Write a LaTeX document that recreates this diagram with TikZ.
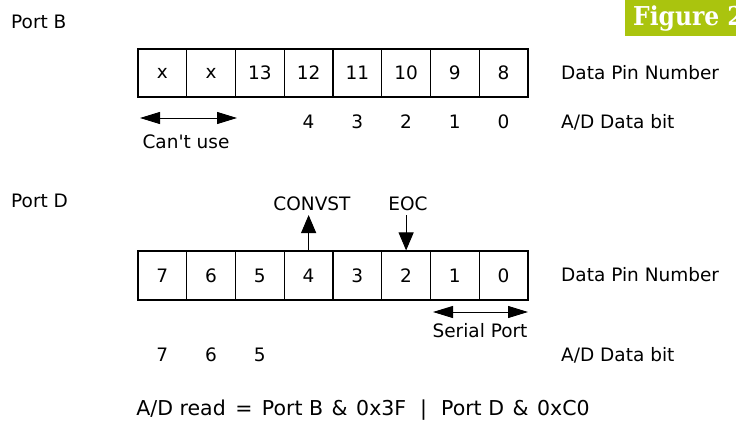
\documentclass[tikz,border=0pt]{standalone}
\usepackage{fontspec}
\setmainfont{DejaVu Sans}[Ligatures=TeXOff]
\newfontfamily\figfont{DejaVu Serif Condensed}
\usetikzlibrary{arrows.meta}
\definecolor{figgreen}{RGB}{170,196,14}
\tikzset{
  cell/.style={draw, line width=1.1pt, minimum width=48.75pt, minimum height=48pt, inner sep=0pt, font=\fontsize{18.5}{20}\selectfont},
  lbl/.style={inner sep=0pt, font=\fontsize{18.5}{20}\selectfont},
  dblarrow/.style={line width=1pt, {Triangle[length=20pt,width=12pt]}-{Triangle[length=20pt,width=12pt]}},
  sigarrow/.style={line width=1pt, -{Triangle[length=18pt,width=15pt]}}
}
\begin{document}
\begin{tikzpicture}[x=1pt,y=-1pt]
\useasboundingbox (0,0) rectangle (736,428);
\fill[white] (0,0) rectangle (736,428);
% Figure tag
\fill[figgreen] (625,0) rectangle (736,36);
\node[anchor=west, inner sep=0pt, text=white, font=\figfont\bfseries\fontsize{26}{30}\selectfont] (fig) at (633,19) {Figure 2};
% Port B
\node[lbl, anchor=west] (pb) at (11,22) {Port B};
\foreach \t [count=\i from 0] in {x,x,13,12,11,10,9,8} {
  \node[cell] (b\i) at ({138+48.75*(\i+0.5)},73) {\t};
}
\node[lbl, anchor=west] (bpin) at (561,73) {Data Pin Number};
\node[lbl, anchor=west] (bbit) at (561,122) {A/D Data bit};
\foreach \t [count=\i from 3] in {4,3,2,1,0} {
  \node[lbl] (bb\i) at (b\i |- 0,122) {\t};
}
\coordinate (cuL) at (140,118);
\coordinate (cuR) at (237,118);
\draw[dblarrow] (cuL) -- (cuR);
\node[lbl] (cantuse) at (186,142) {Can't use};
% Port D
\node[lbl, anchor=west] (pd) at (11,201) {Port D};
\foreach \t [count=\i from 0] in {7,6,5,4,3,2,1,0} {
  \node[cell, minimum height=49pt] (d\i) at ({138+48.75*(\i+0.5)},275.5) {\t};
}
\node[lbl, anchor=west] (dpin) at (561,275) {Data Pin Number};
\node[lbl, anchor=west] (dbit) at (561,355) {A/D Data bit};
\foreach \t [count=\i from 0] in {7,6,5} {
  \node[lbl] (db\i) at (d\i |- 0,355) {\t};
}
\node[lbl] (convst) at (312,204) {CONVST};
\node[lbl] (eoc) at (408,204) {EOC};
\coordinate (cvtop) at (d3 |- 0,215);
\coordinate (eocbot) at (d5 |- 0,215);
\draw[sigarrow] (d3.north) -- (cvtop);
\draw[sigarrow] (eocbot) -- (d5.north);
\coordinate (spL) at (433,312);
\coordinate (spR) at (528,312);
\draw[dblarrow] (spL) -- (spR);
\node[lbl] (serial) at (480,331) {Serial Port};
% Formula
\node[lbl, font=\fontsize{20.5}{22}\selectfont] (formula) at (363,410) {A/D read\hspace{3pt} = \hspace{3pt}Port B \hspace{2pt}\&\hspace{2pt} 0x3F\hspace{14pt}|\hspace{14pt}Port D \hspace{2pt}\&\hspace{2pt} 0xC0};
\end{tikzpicture}
\end{document}
